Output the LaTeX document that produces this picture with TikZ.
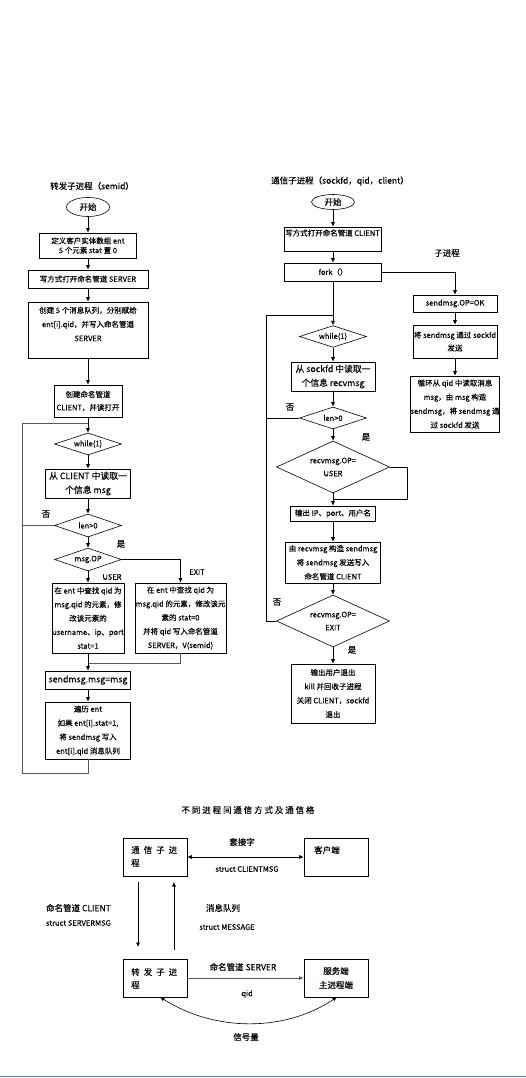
\documentclass[tikz,border=0pt]{standalone}
\usepackage{fontspec}
\setmainfont{Noto Sans CJK SC}[FakeBold=0.2]
\usetikzlibrary{shapes.geometric,arrows.meta}
\newcommand\fsm[1]{\fontsize{7.5}{#1}\selectfont}
\newcommand\fbig{\fontsize{8.8}{14}\selectfont}
\newcommand\ftitle{\fontsize{8.5}{12}\selectfont}
\begin{document}
\begin{tikzpicture}[x=1pt,y=-1pt,
  box/.style={draw=black, line width=0.6pt, inner sep=0pt, align=center, font=\fsm{14}},
  dia/.style={draw=black, line width=0.6pt, diamond, aspect=2, inner sep=0pt, align=center, font=\fsm{13}},
  ell/.style={draw=black, line width=0.6pt, ellipse, inner sep=0pt, font=\ftitle},
  txt/.style={inner sep=0pt, align=center, font=\fsm{14}},
  lbl/.style={inner sep=0pt, font=\ftitle},
  arr/.style={line width=0.6pt, -{Latex[length=4.5pt,width=4pt]}},
  ln/.style={line width=0.6pt},
  gln/.style={line width=1pt, draw=black!65},
  darr/.style={line width=0.6pt, {Latex[length=4.5pt,width=4pt]}-{Latex[length=4.5pt,width=4pt]}},
]
\useasboundingbox (0,0) rectangle (526,1078);

% ---------------- left flowchart ----------------
\node[lbl] (t1) at (92,186) {转发子进程（semid）};
\node[ell, minimum width=43, minimum height=19] (s1) at (88,207) {开始};
\node[box, font=\fsm{9.5}, minimum width=97, minimum height=25] (L1) at (88,245.5) {定义客户实体数组 ent\\5 个元素 stat 置 0};
\node[box, minimum width=120, minimum height=18] (L2) at (88,279) {写方式打开命名管道 SERVER};
\node[box, minimum width=120, minimum height=56] (L3) at (88,330) {};
\node[txt] (L3t) at (88,324) {创建 5 个消息队列，分别赋给\\ent[i].qid，并写入命名管道\\SERVER};
\node[box, font=\fsm{13}, minimum width=68, minimum height=32] (L4) at (88,401) {创建命名管道\\CLIENT，并读打开};
\node[dia, minimum width=67, minimum height=22] (W1) at (88,444) {while(1)};
\node[box, font=\fbig, minimum width=85, minimum height=29] (L5) at (88,483.5) {从 CLIENT 中读取一\\个信息 msg};
\node[dia, minimum width=67, minimum height=23] (D2) at (88,525.5) {len>0};
\node[dia, minimum width=67, minimum height=23] (D3) at (88,559.5) {msg.OP};
\node[box, font=\fsm{13.8}, minimum width=68, minimum height=70] (U) at (88,618) {在 ent 中查找 qid 为\\msg.qid 的元素，修\\改该元素的\\username、ip、port\\stat=1};
\node[box, font=\fsm{13.8}, minimum width=91, minimum height=70] (E) at (180.5,618) {在 ent 中查找 qid 为\\msg.qid 的元素，修改该元\\素的 stat=0\\并将 qid 写入命名管道\\SERVER，V(semid)};
\node[box, font=\fbig, minimum width=85, minimum height=18] (S) at (88,680) {sendmsg.msg=msg};
\node[box, minimum width=85, minimum height=57] (T) at (88,730.5) {遍历 ent\\如果 ent[i].stat=1,\\将 sendmsg 写入\\ent[i].qid 消息队列};

\node[lbl] (no1) at (46,514) {否};
\node[lbl] (yes1) at (121,544) {是};
\node[txt, font=\fsm{9}] (user1) at (112,577) {USER};
\node[txt, font=\fsm{9}] (exit1) at (197,572) {EXIT};

\coordinate (lt) at (22,423);
\coordinate (lb) at (22,773);
\coordinate (m1) at (88,663);

\draw[arr] (s1) -- (L1);
\draw[arr] (L1) -- (L2);
\draw[arr] (L2) -- (L3);
\draw[arr] (L3) -- (L4);
\draw[arr] (L4) -- (W1);
\draw[arr] (W1) -- (L5);
\draw[arr] (L5) -- (D2);
\draw[arr] (D2) -- (D3);
\draw[arr] (D3) -- (U);
\draw[arr] (D3.east) -| (E.north);
\draw[gln] (E.south) |- (m1);
\draw[arr] (U.south) -- (S.north);
\draw[arr] (S) -- (T);
\draw[gln] (T.south) |- (lb) -- (lt) -- (lt -| L4.south);
\draw[gln] (D2.west) -- (D2.west -| lt);

% ---------------- right flowchart ----------------
\node[lbl] (t2) at (340,181) {通信子进程（sockfd，qid，client）};
\node[ell, minimum width=43, minimum height=15] (s2) at (333,202) {开始};
\node[box, minimum width=97, minimum height=24] (R1) at (333,239) {};
\node[txt, anchor=west] (R1t) at (285,233) {写方式打开命名管道 CLIENT};
\node[box, minimum width=97, minimum height=18] (R2) at (333,272) {fork（）};
\node[lbl] (child) at (447,253) {子进程};
\node[box, minimum width=84, minimum height=17] (C1) at (455,303.5) {sendmsg.OP=OK};
\node[box, font=\fsm{13}, minimum width=84, minimum height=33] (C2) at (455,341.5) {将 sendmsg 通过 sockfd\\发送};
\node[box, minimum width=84, minimum height=56] (C3) at (455,404) {循环从 qid 中读取消息\\msg，由 msg 构造\\sendmsg，将 sendmsg 通\\过 sockfd 发送};
\node[dia, minimum width=67, minimum height=21] (W2) at (333,336.5) {while(1)};
\node[box, font=\fbig, minimum width=84, minimum height=29] (R3) at (333,376.5) {从 sockfd 中读取一\\个信息 recvmsg};
\node[dia, minimum width=67, minimum height=22] (D4) at (333,418) {len>0};
\node[dia, minimum width=113, minimum height=52] (D5) at (333,467) {recvmsg.OP=\\USER};
\node[box, minimum width=85, minimum height=15] (R4) at (333,513.5) {输出 IP、port、用户名};
\node[box, minimum width=95, minimum height=41] (R5) at (333,562.5) {由 recvmsg 构造 sendmsg\\将 sendmsg 发送写入\\命名管道 CLIENT};
\node[dia, minimum width=113, minimum height=52] (D6) at (333,621) {recvmsg.OP=\\EXIT};
\node[box, minimum width=84, minimum height=59] (R6) at (333,693.5) {输出用户退出\\kill 并回收子进程\\关闭 CLIENT，sockfd\\退出};

\node[lbl] (no2) at (290,407) {否};
\node[lbl] (yes2) at (366,437) {是};
\node[lbl] (no3) at (277,602) {否};
\node[lbl] (yes3) at (352,650) {是};

\coordinate (rt) at (266,315);
\coordinate (rj) at (333,499);

\draw[arr] (s2) -- (R1);
\draw[arr] (R1) -- (R2);
\draw[arr] (R2) -- (W2);
\draw[arr] (R2.east) -| (C1.north);
\draw[arr] (C1) -- (C2);
\draw[arr] (C2) -- (C3);
\draw[arr] (W2) -- (R3);
\draw[arr] (R3) -- (D4);
\draw[arr] (D4) -- (D5);
\draw[arr] (D5) -- (R4);
\draw[ln] (D5.east) -- ++(17,0) |- (rj);
\draw[arr] (R4) -- (R5);
\draw[arr] (R5) -- (D6);
\draw[arr] (D6) -- (R6);
\draw[ln] (D6.west) -| (rt) -- (rt -| R2.south);
\draw[ln] (D4.west) -- (D4.west -| rt);

% ---------------- bottom diagram ----------------
\node[lbl, font=\ftitle\addfontfeature{LetterSpace=22}] (bt) at (248,810) {不同进程间通信方式及通信格};
\node[box, minimum width=64, minimum height=38] (B1) at (155,857) {};
\node[lbl, anchor=west, align=left, font=\fontsize{8.5}{13}\selectfont] (B1t) at (131,856.5) {通\hspace{4pt}信\hspace{4pt}子\hspace{4pt}进\\程};
\node[box, minimum width=64, minimum height=38] (B2) at (336,857) {};
\node[lbl] (B2t) at (327,850) {客户端};
\node[box, minimum width=64, minimum height=38] (B3) at (155,978) {};
\node[lbl, anchor=west, align=left, font=\fontsize{8.5}{13}\selectfont] (B3t) at (131,978.5) {转\hspace{4pt}发\hspace{4pt}子\hspace{4pt}进\\程};
\node[box, font=\fontsize{8.5}{14}\selectfont, minimum width=64, minimum height=38] (B4) at (336,978) {服务端\\主进程端};

\node[lbl] (k1) at (242,842) {套接字};
\node[txt, font=\fsm{9}] (k2) at (247,869) {struct CLIENTMSG};
\node[lbl, anchor=east] (k3) at (111,908) {命名管道 CLIENT};
\node[txt, anchor=east, font=\fsm{9}] (k4) at (111,923) {struct SERVERMSG};
\node[lbl] (k5) at (223,908) {消息队列};
\node[txt, font=\fsm{9}] (k6) at (227,927) {struct MESSAGE};
\node[lbl] (k7) at (243,967) {命名管道 SERVER};
\node[txt, font=\fsm{9}] (k8) at (247,994) {qid};
\node[lbl] (k9) at (246,1037) {信号量};

\coordinate (a1) at (138,882);
\coordinate (a2) at (138,947);
\coordinate (a3) at (174,950);
\coordinate (a4) at (174,882);
\coordinate (c1) at (160,997);
\coordinate (c2) at (337,997);

\draw[darr] (B1) -- (B2);
\draw[arr] (a1) -- (a2);
\draw[arr] (a3) -- (a4);
\draw[arr, line width=1pt, draw=black!65] (B3) -- (B4);
\draw[darr] (c1) .. controls (215,1032) and (285,1032) .. (c2);

\draw[line width=1pt, draw={rgb,255:red,79;green,129;blue,189}] (0,1076) -- (526,1076);
\end{tikzpicture}
\end{document}
